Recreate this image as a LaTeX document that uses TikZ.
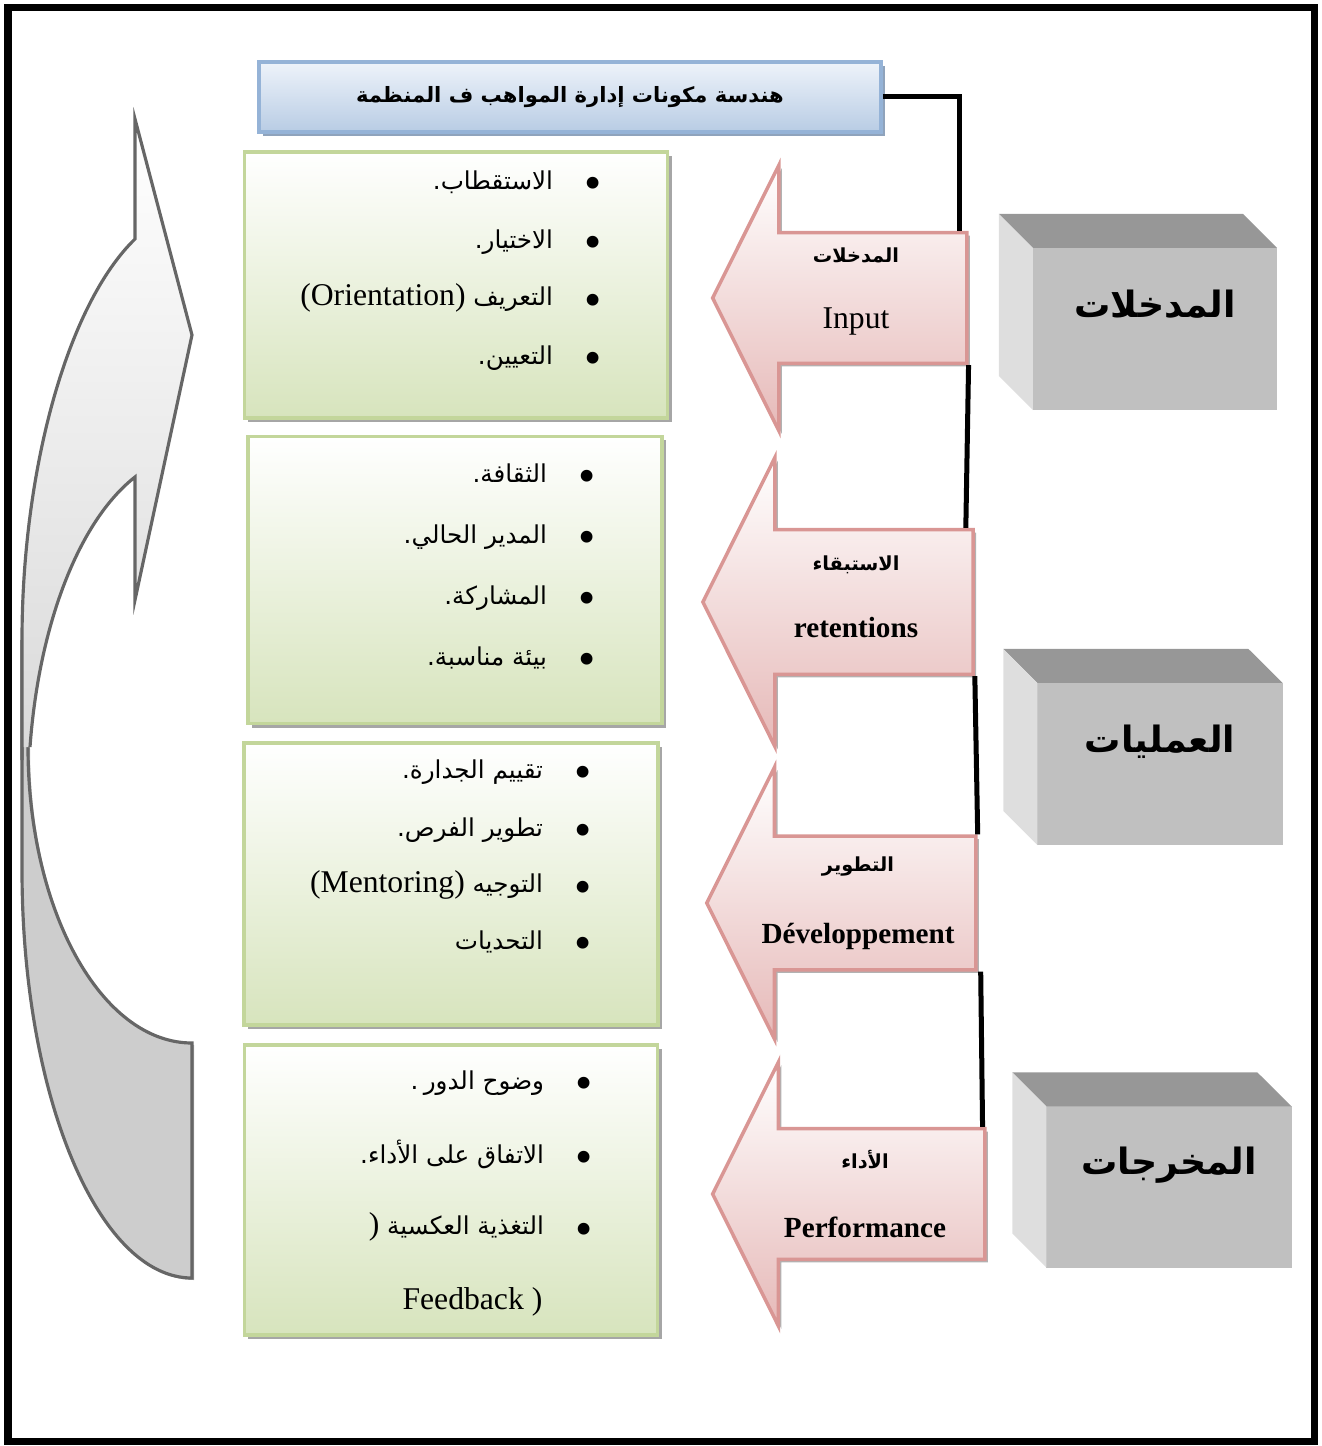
\documentclass[tikz,border=0pt]{standalone}
\usepackage{fontspec}
\setmainfont{Liberation Serif}
\newfontfamily\arabicfont[Script=Arabic]{DejaVu Sans}
\TeXXeTstate=1
\usetikzlibrary{shapes.arrows,shadows}

\definecolor{titletop}{HTML}{EEF3FA}
\definecolor{titlebot}{HTML}{B8CCE4}
\definecolor{titleline}{HTML}{95B3D7}
\definecolor{titleshadow}{HTML}{8FA3BC}
\definecolor{listbot}{HTML}{D7E4BD}
\definecolor{listline}{HTML}{C3D69B}
\definecolor{arrowbot}{HTML}{E6B9B8}
\definecolor{arrowline}{HTML}{D99694}
\definecolor{cubefront}{HTML}{C0C0C0}
\definecolor{cubetop}{HTML}{979797}
\definecolor{cubeside}{HTML}{DEDEDE}
\definecolor{loopline}{HTML}{666666}
\definecolor{loopback}{HTML}{CDCDCD}
\definecolor{loopfront}{HTML}{DADADA}

\newcommand{\artext}[1]{{\arabicfont\fontsize{7}{11}\selectfont\beginR #1\endR}}
\newcommand{\artextb}[1]{{\arabicfont\bfseries\beginR #1\endR}}
\newcommand{\dotmark}{\hspace{0.31cm}\raisebox{-2.9pt}{\smash{\fontsize{14}{14}\selectfont\textbullet}}}

\begin{document}
\begin{tikzpicture}[x=0.01cm, y=-0.01cm,
    link/.style={line width=0.05cm},
    titlebox/.style={draw=titleline, line width=1pt, top color=titletop, bottom color=titlebot,
        drop shadow={shadow xshift=0.04cm, shadow yshift=-0.04cm, fill=titleshadow, opacity=1}},
    listbox/.style={draw=listline, line width=1pt, top color=white, bottom color=listbot,
        drop shadow={shadow xshift=0.04cm, shadow yshift=-0.04cm, fill=black!35, opacity=1}},
    stagearrow/.style={single arrow, shape border rotate=180, draw=arrowline, line width=1pt,
        top color=white, bottom color=arrowbot, inner sep=0pt, single arrow tip angle=127,
        font=\fontsize{8.3}{11}\selectfont\bfseries,
        drop shadow={shadow xshift=0.03cm, shadow yshift=-0.03cm, fill=black!30, opacity=1}},
    cubeface/.style={fill=cubefront, inner sep=0pt, outer sep=0pt},
    cubelabel/.style={font=\fontsize{10.3}{13}\selectfont},
    item/.style={anchor=east, inner sep=0pt, font=\fontsize{9}{11}\selectfont},
]
\useasboundingbox (0,0) rectangle (1322,1446);

% feedback loop arrow
\filldraw[draw=loopline, fill=loopback, line width=0.9pt,
    drop shadow={shadow xshift=0.02cm, shadow yshift=-0.02cm, fill=black!30, opacity=1}]
    (192,1043) .. controls (101,1043) and (28,910) .. (28,747) -- (22,640) -- (22,870)
    .. controls (22,1095) and (98,1278) .. (192,1278) -- cycle;
\shade[top color=white, bottom color=loopfront]
    (135,239) .. controls (67,305) and (22,471) .. (22,640) -- (22,747) -- (30,747)
    .. controls (39,624) and (79,521) .. (135,477) -- (135,600) -- (192,335) -- (135,119) -- cycle;
\draw[loopline, line width=0.9pt]
    (30,747) .. controls (39,624) and (79,521) .. (135,477) -- (135,600) -- (192,335)
    -- (135,119) -- (135,239) .. controls (67,305) and (22,471) .. (22,640) -- (22,760);

% Title
\node[titlebox, minimum width=6.22cm, minimum height=0.7cm] (title) at (570,97)
    {\fontsize{6}{8}\selectfont\artextb{هندسة مكونات إدارة المواهب ف المنظمة}};

% Inputs
\node[listbox, minimum width=4.23cm, minimum height=2.66cm] (inlist) at (456,285) {};
\node[item] (in1) at (602,185) {\artext{.}\artext{الاستقطاب}\dotmark};
\node[item] (in2) at (602,244) {\artext{.}\artext{الاختيار}\dotmark};
\node[item] (in3) at (602,300) {(Orientation) \artext{التعريف}\dotmark};
\node[item] (in4) at (602,360) {\artext{.}\artext{التعيين}\dotmark};

% Retention
\node[listbox, minimum width=4.14cm, minimum height=2.87cm] (retlist) at (455,580) {};
\node[item] (ret1) at (596,478) {\artext{.}\artext{الثقافة}\dotmark};
\node[item] (ret2) at (596,539) {\artext{.}\artext{المدير الحالي}\dotmark};
\node[item] (ret3) at (596,600) {\artext{.}\artext{المشاركة}\dotmark};
\node[item] (ret4) at (596,661) {\artext{.}\artext{بيئة مناسبة}\dotmark};

% Development
\node[listbox, minimum width=4.14cm, minimum height=2.82cm] (devlist) at (451,884) {};
\node[item] (dev1) at (592,774) {\artext{.}\artext{تقييم الجدارة}\dotmark};
\node[item] (dev2) at (592,832) {\artext{.}\artext{تطوير الفرص}\dotmark};
\node[item] (dev3) at (592,887) {(Mentoring) \artext{التوجيه}\dotmark};
\node[item] (dev4) at (592,945) {\artext{التحديات}\dotmark};

% Performance
\node[listbox, minimum width=4.13cm, minimum height=2.9cm] (perflist) at (451,1190) {};
\node[item] (perf1) at (593,1085) {\artext{.}\,\artext{وضوح الدور}\dotmark};
\node[item] (perf2) at (593,1157) {\artext{.}\artext{الاتفاق على الأداء}\dotmark};
\node[item] (perf3) at (593,1229) {) \artext{التغذية العكسية}\dotmark};
\node[item] (perf4) at (543,1302) {Feedback )};

% Stage arrows
\node[stagearrow, minimum height=2.54cm, single arrow head extend=0.675cm] (inarrow) at (856,298)
    {\parbox[c][1.27cm][c]{1.8cm}{\centering\makebox[0pt]{\fontsize{5.5}{7}\selectfont\artextb{المدخلات}}\\[0.27cm]\makebox[0pt]{\mdseries\fontsize{9}{11}\selectfont Input}\par\vspace*{0.13cm}}};
\node[stagearrow, minimum height=2.7cm, single arrow head extend=0.72cm] (retarrow) at (856,602)
    {\parbox[c][1.41cm][c]{1.8cm}{\centering\makebox[0pt]{\fontsize{5.5}{7}\selectfont\artextb{الاستبقاء}}\\[0.28cm]\makebox[0pt]{retentions}\par\vspace*{0.11cm}}};
\node[stagearrow, minimum height=2.69cm, single arrow head extend=0.69cm] (devarrow) at (858,903)
    {\parbox[c][1.3cm][c]{1.8cm}{\centering\makebox[0pt]{\fontsize{5.5}{7}\selectfont\artextb{التطوير}}\\[0.33cm]\makebox[0pt]{Développement}}};
\node[stagearrow, minimum height=2.72cm, single arrow head extend=0.665cm] (perfarrow) at (865,1194)
    {\parbox[c][1.27cm][c]{1.8cm}{\centering\makebox[0pt]{\fontsize{5.5}{7}\selectfont\artextb{الأداء}}\\[0.3cm]\makebox[0pt]{Performance}}};

% Cubes
\node[cubeface, minimum width=2.44cm, minimum height=1.62cm] (incube) at (1155,329) {};
\fill[cubetop] (incube.north west) -- ++(-34,-34) -- ++(244,0) -- (incube.north east) -- cycle;
\fill[cubeside] (incube.north west) -- ++(-34,-34) -- ++(0,162) -- (incube.south west) -- cycle;
\node[cubelabel] (inlabel) at ([yshift=0.25cm]incube.center) {\artextb{المدخلات}};

\node[cubeface, minimum width=2.45cm, minimum height=1.62cm] (proccube) at (1160,764) {};
\fill[cubetop] (proccube.north west) -- ++(-34,-34) -- ++(245,0) -- (proccube.north east) -- cycle;
\fill[cubeside] (proccube.north west) -- ++(-34,-34) -- ++(0,162) -- (proccube.south west) -- cycle;
\node[cubelabel] (proclabel) at ([yshift=0.22cm]proccube.center) {\artextb{العمليات}};

\node[cubeface, minimum width=2.45cm, minimum height=1.61cm] (outcube) at (1169,1187) {};
\fill[cubetop] (outcube.north west) -- ++(-34,-34) -- ++(245,0) -- (outcube.north east) -- cycle;
\fill[cubeside] (outcube.north west) -- ++(-34,-34) -- ++(0,161) -- (outcube.south west) -- cycle;
\node[cubelabel] (outlabel) at ([yshift=0.22cm]outcube.center) {\artextb{المخرجات}};

% Links
\draw[link] (title.east) -| ([xshift=-0.09cm]inarrow.before tail);
\draw[link] (inarrow.after tail) -- ([xshift=-0.09cm]retarrow.before tail);
\draw[link] (retarrow.after tail) -- (devarrow.before tail);
\draw[link] ([xshift=0.03cm]devarrow.after tail) -- ([xshift=-0.04cm]perfarrow.before tail);

% Frame
\draw[line width=0.07cm] (8,8) rectangle (1314,1441);
\end{tikzpicture}
\end{document}
